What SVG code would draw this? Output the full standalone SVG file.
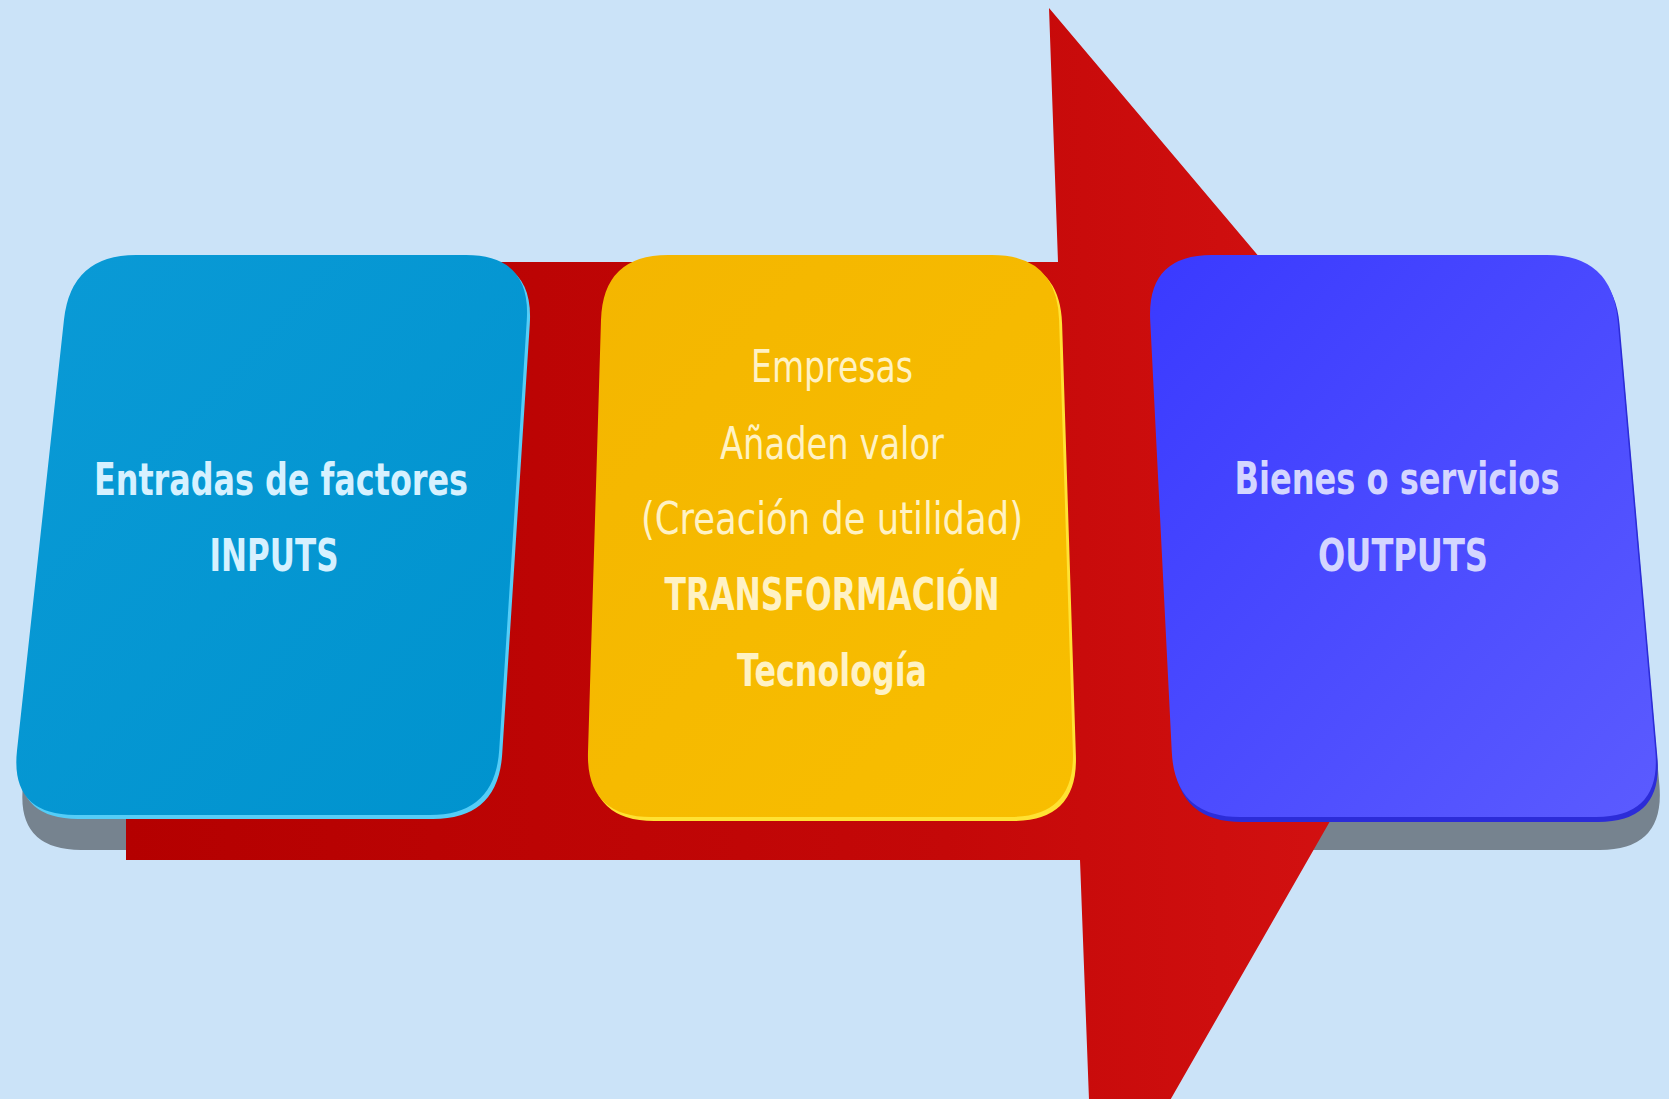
<svg xmlns="http://www.w3.org/2000/svg" width="1669" height="1099" viewBox="0 0 1669 1099">
  <defs>
    <linearGradient id="redGrad" x1="0" y1="0" x2="1" y2="0">
      <stop offset="0" stop-color="#B40000"/>
      <stop offset="0.6" stop-color="#C40808"/>
      <stop offset="1" stop-color="#D81414"/>
    </linearGradient>
    <linearGradient id="cyanGrad" x1="0" y1="0" x2="1" y2="1">
      <stop offset="0" stop-color="#0A9AD6"/>
      <stop offset="1" stop-color="#0093CE"/>
    </linearGradient>
    <linearGradient id="yelGrad" x1="0" y1="0" x2="1" y2="1">
      <stop offset="0" stop-color="#F4B600"/>
      <stop offset="1" stop-color="#F8BE00"/>
    </linearGradient>
    <linearGradient id="bluGrad" x1="0" y1="0" x2="1" y2="1">
      <stop offset="0" stop-color="#3A3AFF"/>
      <stop offset="1" stop-color="#5B5BFF"/>
    </linearGradient>
    <style>
      .shadow { fill: #76838F; }
      .lbl { font-family: "DejaVu Sans", "Noto Sans", sans-serif; font-size: 44px; text-anchor: middle; }
      .b { font-weight: bold; }
      .t1 { fill: #D6F1FF; }
      .t2 { fill: #FFF2C4; }
      .t3 { fill: #D4D6FF; }
    </style>
  </defs>

  <rect x="0" y="0" width="1669" height="1099" fill="#CBE3F8"/>

  <!-- shadows -->
  <path class="shadow" transform="translate(6,35)" d="M136,255 L466,255 Q531,255 526.8,319.9 L499.2,750.1 Q495,815 430,815 L75,815 Q10,815 17,750.4 L64,319.6 Q71,255 136,255 Z"/>
  <path class="shadow" transform="translate(4,33)" d="M1212,255 L1547,255 Q1612,255 1617.6,319.8 L1655.4,752.2 Q1661,817 1596,817 L1240,817 Q1175,817 1171.8,752.1 L1150.2,319.9 Q1147,255 1212,255 Z"/>

  <!-- connector: big red arrow -->
  <g id="connectors">
    <path id="arrow" fill="url(#redGrad)" d="M126,262 L1058,262 L1049,8 L1494,535 L1094,1233 L1080,860 L126,860 Z"/>
  </g>

  <!-- node 1 -->
  <g id="inputs">
    <path fill="#55CDF7" transform="translate(3,4)" d="M136,255 L466,255 Q531,255 526.8,319.9 L499.2,750.1 Q495,815 430,815 L75,815 Q10,815 17,750.4 L64,319.6 Q71,255 136,255 Z"/>
    <path fill="url(#cyanGrad)" d="M136,255 L466,255 Q531,255 526.8,319.9 L499.2,750.1 Q495,815 430,815 L75,815 Q10,815 17,750.4 L64,319.6 Q71,255 136,255 Z"/>
    <text class="lbl b t1" x="281" y="495" textLength="374" lengthAdjust="spacingAndGlyphs">Entradas de factores</text>
    <text class="lbl b t1" x="274" y="571" textLength="129" lengthAdjust="spacingAndGlyphs">INPUTS</text>
  </g>

  <!-- node 2 -->
  <g id="transformacion">
    <path fill="#FFE233" transform="translate(3,4)" d="M668,255 L992,255 Q1057,255 1059.1,320 L1072.9,752 Q1075,817 1010,817 L651,817 Q586,817 588,752 L601,320 Q603,255 668,255 Z"/>
    <path fill="url(#yelGrad)" d="M668,255 L992,255 Q1057,255 1059.1,320 L1072.9,752 Q1075,817 1010,817 L651,817 Q586,817 588,752 L601,320 Q603,255 668,255 Z"/>
    <text class="lbl t2" x="832" y="382" textLength="162" lengthAdjust="spacingAndGlyphs">Empresas</text>
    <text class="lbl t2" x="832" y="459" textLength="224" lengthAdjust="spacingAndGlyphs">Añaden valor</text>
    <text class="lbl t2" x="832" y="534" textLength="382" lengthAdjust="spacingAndGlyphs">(Creación de utilidad)</text>
    <text class="lbl b t2" x="832" y="610" textLength="335" lengthAdjust="spacingAndGlyphs">TRANSFORMACIÓN</text>
    <text class="lbl b t2" x="832" y="686" textLength="190" lengthAdjust="spacingAndGlyphs">Tecnología</text>
  </g>

  <!-- node 3 -->
  <g id="outputs">
    <path fill="#2C2CD8" transform="translate(2,5)" d="M1212,255 L1547,255 Q1612,255 1617.6,319.8 L1655.4,752.2 Q1661,817 1596,817 L1240,817 Q1175,817 1171.8,752.1 L1150.2,319.9 Q1147,255 1212,255 Z"/>
    <path fill="url(#bluGrad)" d="M1212,255 L1547,255 Q1612,255 1617.6,319.8 L1655.4,752.2 Q1661,817 1596,817 L1240,817 Q1175,817 1171.8,752.1 L1150.2,319.9 Q1147,255 1212,255 Z"/>
    <text class="lbl b t3" x="1397" y="494" textLength="325" lengthAdjust="spacingAndGlyphs">Bienes o servicios</text>
    <text class="lbl b t3" x="1403" y="571" textLength="170" lengthAdjust="spacingAndGlyphs">OUTPUTS</text>
  </g>
</svg>
